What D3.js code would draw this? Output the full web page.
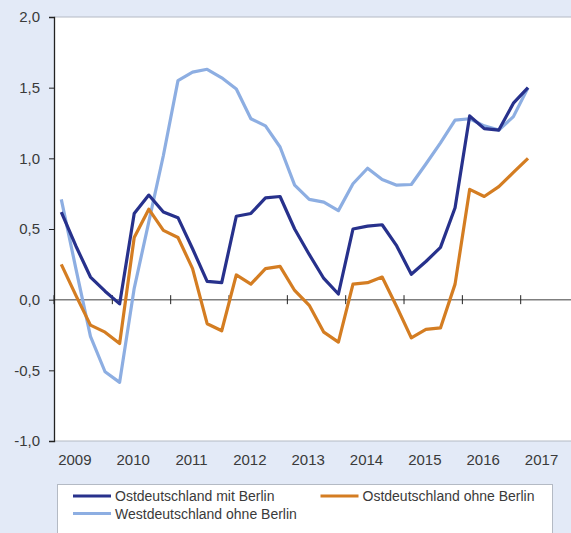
<!DOCTYPE html>
<html>
<head>
<meta charset="utf-8">
<script src="https://cdn.jsdelivr.net/npm/d3@7"></script>
<style>
  html, body { margin: 0; padding: 0; background: #e3eaf7; }
  svg { display: block; font-family: "Liberation Sans", Arial, sans-serif; }
</style>
</head>
<body>
<div id="app"></div>
<script>
// quarterly values 2009 Q1 .. 2017 Q1
const years = ['2009','2010','2011','2012','2013','2014','2015','2016','2017']
const yTicks = [-1, -0.5, 0, 0.5, 1, 1.5, 2]

const ostMit = [0.62, 0.38, 0.16, 0.06, -0.03, 0.61, 0.74, 0.62, 0.58, 0.36, 0.13, 0.12,
    0.59, 0.61, 0.72, 0.73, 0.50, 0.32, 0.15, 0.04, 0.50, 0.52, 0.53, 0.38,
    0.18, 0.27, 0.37, 0.65, 1.30, 1.21, 1.20, 1.39, 1.50]
const ostOhne = [0.25, 0.03, -0.18, -0.23, -0.31, 0.44, 0.64, 0.49, 0.44, 0.22, -0.17, -0.22,
    0.175, 0.11, 0.22, 0.235, 0.065, -0.04, -0.23, -0.30, 0.11, 0.12, 0.16, -0.05,
    -0.27, -0.21, -0.20, 0.11, 0.78, 0.73, 0.80, 0.90, 1.0]
const west = [0.71, 0.22, -0.26, -0.51, -0.585, 0.08, 0.55, 1.02, 1.55, 1.61, 1.63, 1.57,
    1.49, 1.28, 1.23, 1.08, 0.81, 0.71, 0.69, 0.63, 0.82, 0.93, 0.85, 0.81,
    0.815, 0.96, 1.11, 1.27, 1.28, 1.23, 1.20, 1.295, 1.50]

const series = [
    {name: 'Westdeutschland ohne Berlin', values: west, color: '#8daee2'},
    {name: 'Ostdeutschland ohne Berlin', values: ostOhne, color: '#d47d22'},
    {name: 'Ostdeutschland mit Berlin', values: ostMit, color: '#27318c'},
]
const legendItems = [
    {name: 'Ostdeutschland mit Berlin', color: '#27318c', col: 0, row: 0},
    {name: 'Ostdeutschland ohne Berlin', color: '#d47d22', col: 1, row: 0},
    {name: 'Westdeutschland ohne Berlin', color: '#8daee2', col: 0, row: 1},
]

const width = 571, height = 533
const plotLeft = 54, plotTop = 17, plotBottom = 441

const svg = d3.select('#app').append('svg')
    .attr('width', width).attr('height', height)

const x = d3.scaleLinear().domain([-0.5, 31.5]).range([plotLeft, 520.7])
const y = d3.scaleLinear().domain([-1, 2]).range([plotBottom, plotTop])

// plot area
svg.append('rect').attr('x', plotLeft).attr('y', plotTop)
    .attr('width', width - plotLeft).attr('height', plotBottom - plotTop)
    .attr('fill', '#fff')
svg.append('line').attr('x1', plotLeft).attr('x2', width).attr('y1', plotTop).attr('y2', plotTop)
    .attr('stroke', '#b4bac4').attr('stroke-width', 1)
svg.append('line').attr('x1', plotLeft).attr('x2', width).attr('y1', plotBottom).attr('y2', plotBottom)
    .attr('stroke', '#b4bac4').attr('stroke-width', 1)

// zero line with year ticks
svg.append('line').attr('x1', plotLeft).attr('x2', width).attr('y1', y(0)).attr('y2', y(0))
    .attr('stroke', '#7f7f7f').attr('stroke-width', 1.5)
svg.append('g').selectAll('line')
    .data(years.map((d, i) => i * 4 - 0.5))
    .enter().append('line')
    .attr('x1', d => x(d)).attr('x2', d => x(d))
    .attr('y1', y(0) - 4.5).attr('y2', y(0) + 4.5)
    .attr('stroke', '#222').attr('stroke-width', 1)

// y axis
const yAxis = svg.append('g').attr('transform', `translate(${plotLeft},0)`)
    .call(d3.axisLeft(y).tickValues(yTicks).tickSize(5).tickPadding(9)
        .tickFormat(d => d3.format('.1f')(d).replace('.', ',').replace('−', '-')))
yAxis.select('.domain').attr('stroke', '#222').attr('stroke-width', 1.3)
yAxis.selectAll('.tick line').attr('stroke', '#222')
yAxis.selectAll('text').attr('fill', '#3a3a3a').style('font-size', '15px')

// year labels
svg.append('g').selectAll('text')
    .data(years)
    .enter().append('text')
    .attr('x', (d, i) => x(i * 4 + 0.93))
    .attr('y', 465)
    .attr('text-anchor', 'middle')
    .attr('fill', '#3a3a3a')
    .style('font-size', '15px')
    .text(d => d)

// lines
const line = d3.line()
    .x((d, i) => x(i))
    .y(d => y(d))

svg.append('g').selectAll('path')
    .data(series)
    .enter().append('path')
    .attr('fill', 'none')
    .attr('stroke', d => d.color)
    .attr('stroke-width', 3.2)
    .attr('stroke-linejoin', 'round')
    .attr('d', d => line(d.values))

// legend
const legend = svg.append('g')
legend.append('rect').attr('x', 57.5).attr('y', 484.5)
    .attr('width', 495).attr('height', 60)
    .attr('fill', '#fff').attr('stroke', '#b4bac4')
const li = legend.selectAll('g.item')
    .data(legendItems)
    .enter().append('g')
    .attr('transform', d => `translate(${d.col ? 320.5 : 73},${d.row ? 513.5 : 496})`)
li.append('line').attr('x1', 0).attr('x2', 38)
    .attr('stroke', d => d.color).attr('stroke-width', 3.2)
li.append('text').attr('x', 42).attr('y', 5)
    .attr('fill', '#3a3a3a')
    .style('font-size', '14px')
    .text(d => d.name)
</script>
</body>
</html>
